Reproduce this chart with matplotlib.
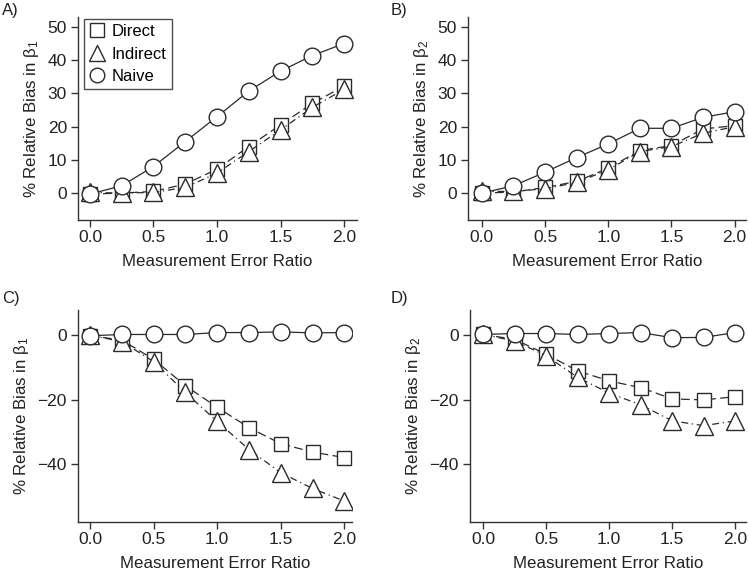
import matplotlib
matplotlib.use("Agg")
import matplotlib.pyplot as plt
import matplotlib.lines as mlines

plt.rcParams['font.family'] = ['Liberation Sans', 'DejaVu Sans']
plt.rcParams['mathtext.fontset'] = 'custom'
plt.rcParams['mathtext.rm'] = 'Liberation Sans'
plt.rcParams['mathtext.it'] = 'Liberation Sans:italic'

x = [0.0, 0.25, 0.5, 0.75, 1.0, 1.25, 1.5, 1.75, 2.0]

# Panel A: bias in beta1 (positive)
a_direct = [-0.3, 0.0, 0.5, 2.7, 7.2, 14.0, 20.5, 27.0, 32.2]
a_indirect = [0.2, 0.0, 0.2, 1.7, 6.0, 12.5, 19.0, 25.8, 31.2]
a_naive = [-0.3, 2.2, 8.0, 15.5, 23.0, 30.7, 36.7, 41.4, 45.0]
# Panel B: bias in beta2 (positive)
b_direct = [0.0, 0.3, 1.7, 3.5, 7.5, 12.8, 14.3, 19.3, 20.3]
b_indirect = [0.5, 0.5, 1.3, 3.2, 7.0, 12.5, 14.0, 18.0, 20.0]
b_naive = [0.0, 2.2, 6.3, 10.7, 14.8, 19.5, 19.5, 22.8, 24.5]
# Panel C: bias in beta1 (negative)
c_direct = [-0.2, -1.5, -7.5, -15.7, -22.4, -28.7, -33.7, -36.3, -38.0]
c_indirect = [0.0, -2.0, -8.2, -17.8, -26.8, -35.5, -42.7, -47.6, -51.5]
c_naive = [-0.2, 0.2, 0.2, 0.2, 0.8, 0.8, 1.0, 0.7, 0.8]
# Panel D: bias in beta2 (negative)
d_direct = [0.2, -1.3, -5.9, -11.1, -14.2, -16.3, -19.8, -20.1, -19.1]
d_indirect = [0.2, -1.8, -6.4, -13.1, -18.0, -21.6, -26.6, -28.1, -26.6]
d_naive = [0.2, 0.5, 0.5, 0.2, 0.5, 0.8, -0.8, -0.7, 0.8]

series_names = ['Direct', 'Indirect', 'Naive']
xticks = [0.0, 0.5, 1.0, 1.5, 2.0]
xticklabels = ["0.0", "0.5", "1.0", "1.5", "2.0"]
yticks_top = [0, 10, 20, 30, 40, 50]
yticks_bot = [0, -20, -40]
yticklabels_bot = ["0", "\u221220", "\u221240"]

W, H = 748, 575
fig = plt.figure(figsize=(W / 100, H / 100), dpi=100)

col = '#2a2a2a'

def make_ax(l, r, t, b):
    return fig.add_axes([l / W, 1 - b / H, (r - l) / W, (b - t) / H])

panels = [
    dict(box=(78, 357, 17, 220), xlim=(-0.094, 2.102), ylim=(-8.1, 53.0),
         d=(a_direct, a_indirect, a_naive), yt=yticks_top, ytl=None,
         yl=r'% Relative Bias in $\mathregular{\beta_1}$', lab='A)', lab_xy=(2, 10), legend=True),
    dict(box=(468, 746, 17, 220), xlim=(-0.11, 2.09), ylim=(-8.1, 53.0),
         d=(b_direct, b_indirect, b_naive), yt=yticks_top, ytl=None,
         yl=r'% Relative Bias in $\mathregular{\beta_2}$', lab='B)', lab_xy=(391, 10), legend=False),
    dict(box=(78, 352, 310, 522), xlim=(-0.094, 2.06), ylim=(-58.0, 7.8),
         d=(c_direct, c_indirect, c_naive), yt=yticks_bot, ytl=yticklabels_bot,
         yl=r'% Relative Bias in $\mathregular{\beta_1}$', lab='C)', lab_xy=(2, 298), legend=False),
    dict(box=(470, 746, 310, 522), xlim=(-0.103, 2.085), ylim=(-58.0, 7.8),
         d=(d_direct, d_indirect, d_naive), yt=yticks_bot, ytl=yticklabels_bot,
         yl=r'% Relative Bias in $\mathregular{\beta_2}$', lab='D)', lab_xy=(391, 298), legend=False),
]

for p in panels:
    ax = make_ax(*p['box'])
    dr, ind, nv = p['d']
    ax.plot(x, dr, color=col, lw=0.9, dashes=(7, 3.5), marker='s', ms=9.5,
            mfc='white', mec=col, mew=1.0, label=series_names[0], zorder=3)
    ax.plot(x, ind, color=col, lw=0.9, dashes=(5.5, 3, 1, 3), marker='^', ms=13,
            mfc='white', mec=col, mew=1.0, label=series_names[1], zorder=4)
    ax.plot(x, nv, color=col, lw=0.9, ls='-', marker='o', ms=12,
            mfc='white', mec=col, mew=1.0, label=series_names[2], zorder=5)
    ax.set_xlim(*p['xlim'])
    ax.set_ylim(*p['ylim'])
    ax.set_xticks(xticks)
    ax.set_xticklabels(xticklabels)
    ax.set_yticks(p['yt'])
    if p['ytl']:
        ax.set_yticklabels(p['ytl'])
    for s in ['top', 'right']:
        ax.spines[s].set_visible(False)
    for s in ['left', 'bottom']:
        ax.spines[s].set_color('#333333')
        ax.spines[s].set_linewidth(1.0)
    ax.tick_params(direction='out', length=5, width=1.0, color='#333333',
                   labelsize=12.5, labelcolor='#222222', pad=3)
    ax.tick_params(axis='x', pad=2)
    ax.set_xlabel('Measurement Error Ratio', fontsize=12.2, color='#222222', labelpad=7)
    ax.set_ylabel(p['yl'], fontsize=12.2, color='#222222', labelpad=5)
    fig.text(p['lab_xy'][0] / W, 1 - p['lab_xy'][1] / H, p['lab'], fontsize=12,
             ha='left', va='center', color='#222222')
    if p['legend']:
        h1 = mlines.Line2D([], [], ls='none', marker='s', ms=9.5, mfc='white', mec=col, mew=1.0)
        h2 = mlines.Line2D([], [], ls='none', marker='^', ms=12, mfc='white', mec=col, mew=1.0)
        h3 = mlines.Line2D([], [], ls='none', marker='o', ms=10.5, mfc='white', mec=col, mew=1.0)
        leg = ax.legend([h1, h2, h3], series_names, loc='upper left',
                        bbox_to_anchor=(0.022, 0.99), fontsize=12, frameon=True,
                        fancybox=False, edgecolor='#222222', handlelength=0.9,
                        handletextpad=0.45, borderpad=0.3, labelspacing=0.45,
                        borderaxespad=0.0)
        leg.get_frame().set_linewidth(1.0)

fig.savefig('out.png', dpi=100)
